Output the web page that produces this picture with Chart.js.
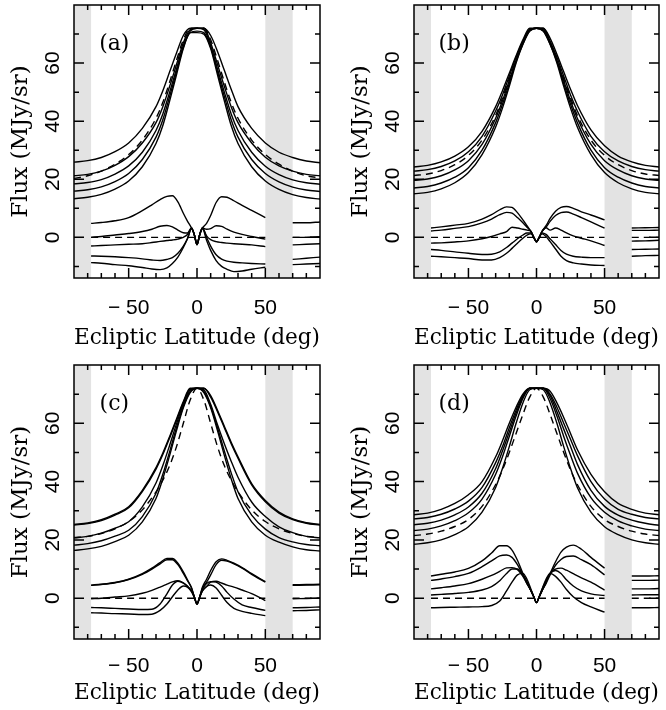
<!DOCTYPE html>
<html>
<head>
<meta charset="utf-8">
<title>Ecliptic latitude profiles</title>
<script src="https://cdn.jsdelivr.net/npm/chart.js@4.4.1/dist/chart.umd.min.js"></script>
<style>
  html, body { margin: 0; padding: 0; background: #fff; }
  #wrap { position: relative; width: 666px; height: 710px; }
  #wrap canvas { position: absolute; }
</style>
</head>
<body>
<div id="wrap">
  <canvas id="cA" width="333" height="355" style="left:0;top:0"></canvas>
  <canvas id="cB" width="333" height="355" style="left:333px;top:0"></canvas>
  <canvas id="cC" width="333" height="355" style="left:0;top:355px"></canvas>
  <canvas id="cD" width="333" height="355" style="left:333px;top:355px"></canvas>
</div>
<script>
// latitudes (deg) for the upper (total flux) and lower (residual) curves
const X_UP = [-90,-80,-70,-60,-50,-40,-30,-25,-20,-15,-10,-5,0,5,10,15,20,25,30,40,50,60,70,80,90];
const X_LO = [-77.5,-70,-60,-50,-40,-33,-27,-22,-18,-14,-10,-7,-4,-2,0,2,4,7,10,14,18,22,27,33,40,50,60,70,80,90];

// ticks
const X_TICKS = [-50, 0, 50];
const X_MARKS = [-80,-70,-60,-50,-40,-30,-20,-10,0,10,20,30,40,50,60,70,80];
const Y_TICKS = [0, 20, 40, 60];
const Y_MARKS = [-10,0,10,20,30,40,50,60,70];

// grey bands (excluded latitudes)
const BANDS = [[-90, -77.5], [50, 70]];

// ---- panel (a)
const A_U1 = [25.9,26.4,27.5,29.5,32.5,37.5,45,50.5,57,63.5,69.5,72,72,72,69.5,64,57.5,51,45,37.5,32.5,29.3,27.5,26.3,25.7];
const A_U2 = [21.2,21.7,22.8,24.8,27.8,32.5,39.5,45,52,59.5,67,71.5,72,72,67,59.5,52,45,39.5,32.5,27.6,24.6,22.8,21.7,21.2];
const A_UD = [20.3,21.2,22.8,25.2,28.5,33.5,41,46.5,53.5,61,68,72,72,72,68,61,53.5,46.5,41,33.5,28.5,25.2,22.8,21.2,20.5];
const A_U3 = [18.4,18.9,19.9,21.8,24.6,29.3,36.8,42.5,50,58,66,71,72,71.5,66,58,50,42.5,36.8,29.3,24.5,21.6,19.8,18.8,18.3];
const A_U4 = [15.9,16.4,17.4,19.2,22,26.8,34.5,40.5,48.5,57,65.5,70.5,71,70.5,65.5,57,48.5,40.5,34.5,26.8,22,19.1,17.3,16.3,15.8];
const A_U5 = [13.3,13.8,14.8,16.6,19.4,24.3,32.3,38.5,47,56,65,70.5,70.5,70,65,56,47,38.5,32.3,24.3,19.4,16.5,14.7,13.7,13.2];
const A_L1 = [4.8,5.1,5.7,6.8,9.2,11.2,13,14.1,14.3,12.2,8.3,5.6,3.2,1,-2.5,1,3.2,4.8,7.5,12,14,13.8,12.6,11,9.3,6.8,null,5,5,5.3];
const A_L2 = [0,0.3,0.8,1.3,2,2.8,3.8,4.1,3.6,2.5,1.6,1.5,3.2,1,-2.5,1,3.2,2.8,3,4,3.8,2.8,1.8,1,0.3,-0.6,null,0,0,0.2];
const A_L3 = [-3,-2.8,-2.6,-2.4,-2.2,-1.8,-1.4,-1.1,-0.9,-0.6,0,1,3.2,1,-2.5,1,3.2,0.5,-0.8,-1.5,-1.8,-2,-2.2,-2.4,-2.6,-3.2,null,-2.6,-2.4,-2.2];
const A_L4 = [-6.4,-6.5,-6.7,-7,-7.4,-7.8,-8,-7.6,-7,-5.5,-3,-0.5,3,1,-2.5,1,3.2,0,-3,-6,-7.5,-8.2,-8.6,-8.8,-9,-9.2,null,-7.6,-7.2,-6.8];
const A_L5 = [-8.7,-8.9,-9.4,-9.8,-10.4,-10.9,-11.1,-10.5,-9,-6.8,-3.5,-0.5,3,1,-2.5,1,3,-1,-4.5,-8,-10,-11,-11.8,-11.6,-11,-10.3,null,-9.4,-9.2,-9];

// ---- panel (b)
const B_U1 = [24.2,24.8,26,28,31.2,36.5,45,50.5,56.5,62.5,68,72,72,72,68.5,63,57,51,45.5,37,31.5,28,26,24.8,24.2];
const B_U2 = [22.8,23.3,24.4,26.3,29.5,34.8,43.5,49,55.5,62,67.5,71.5,72,72,67.5,62,55.5,49,43.5,34.8,29.5,26.3,24.4,23.3,22.8];
const B_UD = [21.3,21.8,23,25,28.2,33.5,42,48,54.5,61,67,71.5,72,71.5,67,61,54.5,48,42,33.5,28.2,25,23,21.8,21.3];
const B_U3 = [19.6,20.1,21.2,23.2,26.4,32,41,47,54,61,67,71.5,72,71.5,67,61,54,47,41,32,26.4,23.2,21.2,20.1,19.6];
const B_U4 = [17,17.5,18.7,20.7,24,30,39.5,45.8,53,60.5,66.5,71,72,71,66.5,60.5,53,45.8,39.5,30,24,20.7,18.7,17.5,17];
const B_U5 = [15,15.5,16.7,18.8,22.3,28.5,38,44.5,52,60,66.5,71,72,71,66.5,60,52,44.5,38,28.5,22.3,18.8,16.7,15.5,15];
const B_L1 = [3.2,3.6,4.2,4.8,6.3,7.8,9.5,10.5,10.3,8.5,6,4,2,0,-1.5,0,2,4,6.5,9,10.3,10.6,10,8.8,7.7,6,null,3.2,3.3,3.4];
const B_L2 = [2.2,2.5,3.1,3.7,5,6.3,7.8,8.6,8.3,6.8,5,3.5,2,0,-1.5,0,2,3.5,5.5,7.5,8.5,8.7,8,6.8,5.3,3.2,null,2.4,2.4,2.5];
const B_L3 = [-2,-1.9,-1.6,-1.2,-0.5,0.3,1.2,2,3.5,3.2,2.8,2.5,2,0,-1.5,0,2,3.3,2.5,3.2,2.5,1.5,0.5,-0.3,-1.2,-2.8,null,-1.3,-1.2,-1];
const B_L4 = [-4.2,-4.5,-5,-5.5,-5.9,-5.8,-5,-3.5,-2,-0.5,0.8,1.5,1.5,0,-1.5,0,1.5,1,-0.5,-2.5,-4.5,-5.8,-6.5,-6.8,-7,-7,null,-4.2,-4.1,-4];
const B_L5 = [-6.5,-6.7,-7,-7.3,-7.8,-7.8,-7,-5.5,-3.8,-2,-0.3,0.8,1.2,0,-1.5,0,1.2,0.3,-1.5,-4,-6.5,-8,-8.8,-9.2,-9.5,-9.7,null,-6.5,-6.3,-6.2];

// ---- panel (c)
const C_U1 = [25.3,25.8,26.9,28.8,31.4,37,44.8,49.8,55.5,61.5,67.5,72,72,72,69.5,64.5,59,53.5,48.5,39.3,33.5,29.5,27.2,25.9,25.3];
const C_U2 = [25.1,25.6,26.6,28.5,31,36.6,44.3,49.3,55,61,67,71.8,72,72,69,64,58.5,53,48,38.9,33.1,29.2,27,25.7,25.1];
const C_UD = [20.8,21.2,22.2,23.8,26.3,30.3,36.5,40.5,45.5,52,60,68,72,68,60,52,45.5,40.5,36.5,30.3,26.3,23.8,22.2,21.2,20.8];
const C_U3 = [20.7,21.2,22.3,24,26.2,31.3,39.5,45.5,52.5,59.8,66.5,71.5,72,71.5,66.5,59.5,53,47,41.5,33,28,24.5,22.5,21.2,20.7];
const C_U4 = [18.2,18.7,19.7,21.3,23.3,28,36,42.5,50.3,58.5,65.8,71,72,71,65.8,58.5,50.5,43,36.5,28.5,23.7,20.8,19.3,18.4,18];
const C_U5 = [16.4,16.9,17.8,19.4,21.6,26.2,34.2,41,49,57.5,65.3,70.5,72,70.5,65.3,57.5,49,41,34.2,26.2,21.6,19.2,17.6,16.6,16.2];
const C_L1 = [4.4,4.7,5.3,6.4,8.2,10,11.8,13.2,13.2,11.5,8.5,6,3.5,0.5,-2,0.5,3.5,5.5,8,11.5,13,12.7,11.8,10.3,8.2,5.5,null,4.4,4.5,4.6];
const C_L2 = [4.5,4.8,5.4,6.5,8.4,10.3,12.2,13.6,13.6,12,9,6.3,3.6,0.5,-2,0.5,3.8,6.5,9.5,12.5,13.5,13,12,10.5,8.4,5.7,null,4.6,4.7,4.8];
const C_L3 = [-0.2,0,0.4,0.8,1.7,2.7,3.8,4.8,5.6,6,5.3,4.2,2.5,0.5,-2,0.5,2.5,4,5.5,5.8,5.2,4.5,3.8,2.8,1.6,-0.8,null,-0.2,-0.1,0];
const C_L4 = [-3.2,-3.3,-3.5,-3.7,-3.9,-3.8,-2,1.5,4.5,5.8,5.2,4,2.5,0.5,-2,0.5,3,5,5.7,5.5,4.2,2,-0.3,-2.3,-3.2,-4.2,null,-3.3,-3.2,-3];
const C_L5 = [-5,-5.1,-5.3,-5.4,-5.6,-5.5,-4.2,-2,0.5,2.8,4.2,3.8,2.2,0.3,-2,0.3,2.5,4,4.5,3.5,1,-1.5,-3.5,-4.5,-5.2,-6,null,-4.3,-4.2,-4];

// ---- panel (d)
const D_U1 = [28.6,29.2,30.5,32.5,35.5,40,48.5,54,60,65.5,70,72,72,72,71,67,62,56.5,51,42.5,36.5,32.5,30.5,29.2,28.6];
const D_U2 = [27.2,27.7,28.8,30.6,33.3,38,46.5,52,58.5,64.5,69.5,72,72,72,70,65.5,60,54.5,49,40,34,30.5,28.8,27.7,27.2];
const D_U3 = [25.2,25.7,26.8,28.6,31.3,36,44.5,50.5,57,63.5,69,72,72,72,69.5,64,58,52,46,37,31.5,28.5,26.8,25.7,25];
const D_U4 = [23.2,23.7,24.8,26.6,29.3,34,42.5,48.5,55.5,62.5,68.5,72,72,72,68.5,62.5,55.5,49,43,34.5,29.5,26.5,24.8,23.7,23.2];
const D_UD = [21.5,22,23,24.6,27,31.5,39,44,50,56.5,63,69,72,69,63,56.5,50,44,39,31.5,27,24.6,23,22,21.5];
const D_U5 = [18.5,19,20,21.8,24.5,29.5,38,44.5,52,60,67,71.5,72,71.5,67,60,52,44.5,38,29.5,24.5,21.8,20,19,18.5];
const D_L1 = [7.6,8.2,9,10.2,12.8,15.5,18,18,16.5,13,8.5,5.5,2.5,0.5,-1.5,0.5,2.5,5.5,8.5,12.5,15.8,17.5,18.2,16.8,14,10.3,null,7.6,7.6,7.7];
const D_L2 = [6.1,6.6,7.4,8.5,10.8,12.8,14.5,14.8,14,11.5,8,5,2.5,0.5,-1.5,0.5,2.5,5,8,11.3,13.3,14.3,14.5,13.2,11.5,8,null,6.1,6.1,6.2];
const D_L3 = [3.2,3.6,4.2,5,6.5,7.8,9.2,10.4,10.5,9.8,7.5,5,2.5,0.5,-1.5,0.5,2.5,5.5,8.5,10,10.3,9.6,8.4,7,5.5,2.8,null,3.2,3.2,3.3];
const D_L4 = [1.1,1.3,1.6,2,2.8,4,6,8.5,10,10,8,5.5,2.5,0.5,-1.5,0.5,3,6,8.5,9.5,8.5,6.3,4.2,2.5,1.5,0.9,null,1.1,1.2,1.2];
const D_L5 = [-3.3,-3.2,-3.1,-3,-2.9,-2.5,-1,2.5,5.5,8,8.5,6.5,3,0.5,-1.5,0.5,3,6.5,8.5,7.5,5.5,3,0.5,-1.5,-3,-4.8,null,-3.3,-3.3,-3.2];

// zero reference (dashed) under the residuals
const ZERO_LO = [0,0,0,0,0,0,0,0,0,0,0,0,0,0,0,0,0,0,0,0,0,0,0,0,0,0,null,0,0,0];

const SANS = '"Liberation Sans", Arial, sans-serif';
const SERIF = '"DejaVu Serif", "Liberation Serif", serif';

const fmtTick = (v) => v < 0 ? '\u2212 ' + Math.abs(v) : String(v);

function linea(xs, ys, dashed) {
  return {
    data: xs.map((x, i) => ({ x: x, y: ys[i] })),
    borderColor: '#000',
    borderWidth: 1.4,
    borderDash: dashed ? [7, 5] : [],
    pointRadius: 0,
    fill: false,
    spanGaps: false,
    cubicInterpolationMode: 'monotone'
  };
}

// bandas grises, marco, ticks hacia dentro, etiquetas del eje y giradas
const deco = {
  id: 'deco',
  beforeDatasetsDraw(chart) {
    const { ctx, chartArea: a, scales: { x } } = chart;
    ctx.save();
    ctx.fillStyle = '#e3e3e3';
    for (const [b0, b1] of BANDS) {
      const p0 = x.getPixelForValue(b0), p1 = x.getPixelForValue(b1);
      ctx.fillRect(p0, a.top, p1 - p0, a.bottom - a.top);
    }
    ctx.restore();
  },
  afterDraw(chart, args, opts) {
    const { ctx, chartArea: a, scales: { x, y } } = chart;
    ctx.save();
    ctx.strokeStyle = '#000';
    ctx.lineWidth = 1.5;
    ctx.strokeRect(a.left, a.top, a.right - a.left, a.bottom - a.top);
    ctx.beginPath();
    for (const v of X_MARKS) {
      const p = x.getPixelForValue(v);
      const len = X_TICKS.includes(v) ? 10 : 5;
      ctx.moveTo(p, a.bottom); ctx.lineTo(p, a.bottom - len);
      ctx.moveTo(p, a.top); ctx.lineTo(p, a.top + len);
    }
    for (const v of Y_MARKS) {
      const p = y.getPixelForValue(v);
      const len = Y_TICKS.includes(v) ? 10 : 5;
      ctx.moveTo(a.left, p); ctx.lineTo(a.left + len, p);
      ctx.moveTo(a.right, p); ctx.lineTo(a.right - len, p);
    }
    ctx.stroke();

    ctx.fillStyle = '#000';
    ctx.font = '21px ' + SANS;
    ctx.textAlign = 'center';
    ctx.textBaseline = 'middle';
    for (const v of Y_TICKS) {
      ctx.save();
      ctx.translate(a.left - 21, y.getPixelForValue(v));
      ctx.rotate(-Math.PI / 2);
      ctx.fillText(fmtTick(v), 0, 0);
      ctx.restore();
    }
    ctx.font = '22px ' + SERIF;
    ctx.fillText(opts.label, x.getPixelForValue(-60.5), y.getPixelForValue(66.5));
    ctx.restore();
  }
};

function panel(id, label, ups, upDash, los, g) {
  const datasets = [];
  ups.forEach(d => datasets.push(linea(X_UP, d, false)));
  datasets.push(linea(X_UP, upDash, true));
  los.forEach(d => datasets.push(linea(X_LO, d, false)));
  datasets.push(linea(X_LO, ZERO_LO, true));

  return new Chart(document.getElementById(id), {
    type: 'line',
    data: { datasets },
    options: {
      responsive: false,
      animation: false,
      devicePixelRatio: 1,
      layout: { padding: { left: 0, right: g.r, top: g.t, bottom: 0 } },
      plugins: { legend: { display: false }, tooltip: { enabled: false }, deco: { label } },
      scales: {
        x: {
          type: 'linear', min: -90, max: 90,
          grid: { display: false },
          border: { display: false },
          afterBuildTicks: (s) => { s.ticks = X_TICKS.map(v => ({ value: v })); },
          afterFit: (s) => { s.height = g.xh; },
          ticks: { color: '#000', font: { family: SANS, size: 21 },
                   padding: g.tp, maxRotation: 0, autoSkip: false, callback: (v) => fmtTick(v) },
          title: { display: true, text: 'Ecliptic Latitude (deg)', color: '#000',
                   font: { family: SERIF, size: 23 }, padding: { top: 0, bottom: 3 } }
        },
        y: {
          type: 'linear', min: -14, max: 80,
          grid: { display: false },
          border: { display: false },
          ticks: { display: false },
          afterFit: (s) => { s.width = g.yw; },
          title: { display: true, text: 'Flux (MJy/sr)', color: '#000',
                   font: { family: SERIF, size: 23 }, padding: { top: g.yp, bottom: 0 } }
        }
      }
    },
    plugins: [deco]
  });
}

panel('cA', '(a)', [A_U1, A_U2, A_U3, A_U4, A_U5], A_UD, [A_L1, A_L2, A_L3, A_L4, A_L5],
      { yw: 74, r: 13, t: 5, xh: 77, tp: 10, yp: 7 });
panel('cB', '(b)', [B_U1, B_U2, B_U3, B_U4, B_U5], B_UD, [B_L1, B_L2, B_L3, B_L4, B_L5],
      { yw: 81, r: 7, t: 5, xh: 77, tp: 10, yp: 14 });
panel('cC', '(c)', [C_U1, C_U2, C_U3, C_U4, C_U5], C_UD, [C_L1, C_L2, C_L3, C_L4, C_L5],
      { yw: 74, r: 13, t: 10, xh: 71, tp: 7, yp: 7 });
panel('cD', '(d)', [D_U1, D_U2, D_U3, D_U4, D_U5], D_UD, [D_L1, D_L2, D_L3, D_L4, D_L5],
      { yw: 81, r: 7, t: 10, xh: 71, tp: 7, yp: 14 });
</script>
</body>
</html>
